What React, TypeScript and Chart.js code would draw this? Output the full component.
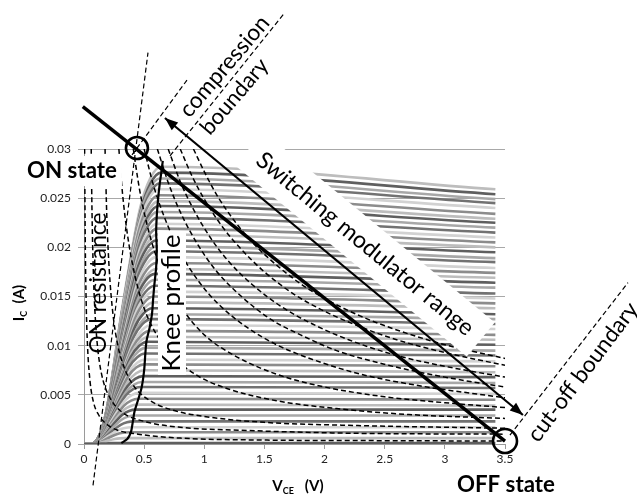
import React, { useEffect, useRef } from 'react';
import { Chart, registerables } from 'chart.js';

Chart.register(...registerables);

const FONT = 'Lato, "Open Sans", "DejaVu Sans", sans-serif';

// axis ticks
const xTickLabels = ['0', '0.5', '1', '1.5', '2', '2.5', '3', '3.5'];
const yTickLabels = ['0', '0.005', '0.01', '0.015', '0.02', '0.025', '0.03'];

// family of I-V curves: plateau current at the knee (A)
const curveKneeCurrent = [
  0.0001, 0.0006, 0.0012, 0.0017, 0.0023, 0.0029, 0.0035, 0.004, 0.0046, 0.0052,
  0.0058, 0.0063, 0.0069, 0.0075, 0.0081, 0.0086, 0.0092, 0.0098, 0.0104, 0.0109,
  0.0115, 0.0121, 0.0127, 0.0132, 0.0138, 0.0144, 0.015, 0.0155, 0.0161, 0.0167,
  0.0173, 0.0178, 0.0184, 0.019, 0.0196, 0.0201, 0.0207, 0.0213, 0.0219, 0.0224,
  0.023, 0.0236, 0.0242, 0.0247, 0.0253, 0.0259, 0.0265, 0.027, 0.0276, 0.0282,
];
// current at the right end of each curve (A)
const curveEndCurrent = [
  0.0001, 0.0006, 0.0012, 0.0017, 0.0023, 0.0029, 0.0035, 0.0039, 0.0045, 0.0051,
  0.0057, 0.0062, 0.0068, 0.0073, 0.0079, 0.0084, 0.009, 0.0095, 0.0101, 0.0106,
  0.0111, 0.0117, 0.0122, 0.0127, 0.0132, 0.0138, 0.0143, 0.0148, 0.0153, 0.0159,
  0.0164, 0.0169, 0.0174, 0.0179, 0.0185, 0.0189, 0.0195, 0.02, 0.0205, 0.021,
  0.0215, 0.022, 0.0225, 0.0229, 0.0234, 0.024, 0.0245, 0.0249, 0.0254, 0.0259,
];
// knee voltage of each curve (V)
const curveKneeVoltage = [
  0.3, 0.34, 0.37, 0.39, 0.41, 0.42, 0.43, 0.44, 0.45, 0.46,
  0.47, 0.48, 0.49, 0.5, 0.5, 0.51, 0.51, 0.52, 0.53, 0.54,
  0.55, 0.56, 0.56, 0.57, 0.57, 0.58, 0.58, 0.58, 0.59, 0.59,
  0.59, 0.6, 0.6, 0.6, 0.6, 0.6, 0.6, 0.61, 0.61, 0.61,
  0.61, 0.61, 0.62, 0.62, 0.62, 0.62, 0.63, 0.63, 0.64, 0.64,
];
const curveEndVoltage = 3.42;
const riseStartVoltage = 0.06;
// shape of the rising part (fraction of knee span, fraction of plateau current)
const riseSpan = [0, 0.2, 0.45, 0.7, 0.85, 1];
const riseLevel = [0, 0.1, 0.5, 0.85, 0.96, 1];
const curveShades = ['#5f5f5f', '#bdbdbd', '#8c8c8c', '#d2d2d2', '#727272', '#a8a8a8'];

// knee profile (V, A)
const kneeProfile = [
  [0.31, 0.0001], [0.36, 0.0005], [0.39, 0.0012], [0.405, 0.0022], [0.42, 0.0033],
  [0.45, 0.0045], [0.48, 0.0058], [0.5, 0.0075], [0.51, 0.0092], [0.52, 0.0105],
  [0.545, 0.0118], [0.565, 0.0132], [0.575, 0.0148], [0.585, 0.0162], [0.6, 0.018],
  [0.605, 0.0198], [0.6, 0.0215], [0.605, 0.0232], [0.615, 0.0248], [0.63, 0.0265],
  [0.645, 0.0278], [0.655, 0.0288],
];

// dashed contours (V, A)
const dashed1 = [[0.005, 0.03], [0.01, 0.0211], [0.018, 0.0144], [0.03, 0.0098], [0.05, 0.0064], [0.08, 0.0042], [0.12, 0.003], [0.18, 0.0021], [0.28, 0.0014], [0.45, 0.001], [0.8, 0.0006], [1.5, 0.0004], [2.5, 0.00034], [3.5, 0.0003]];
const dashed2 = [[0.06, 0.03], [0.065, 0.0249], [0.072, 0.0202], [0.08, 0.0166], [0.09, 0.0137], [0.105, 0.0109], [0.125, 0.0086], [0.16, 0.0064], [0.22, 0.0046], [0.32, 0.0032], [0.5, 0.0023], [0.8, 0.0017], [1.3, 0.0014], [2.2, 0.0011], [3.5, 0.001]];
const dashed3 = [[0.175, 0.03], [0.19, 0.023], [0.21, 0.0177], [0.24, 0.0133], [0.28, 0.0101], [0.34, 0.0076], [0.42, 0.0058], [0.55, 0.0044], [0.75, 0.0034], [1.0, 0.0028], [1.5, 0.0022], [2.2, 0.0019], [3.5, 0.0016]];
const dashed4 = [[0.29, 0.03], [0.32, 0.0255], [0.36, 0.0214], [0.42, 0.0173], [0.5, 0.0138], [0.6, 0.0112], [0.75, 0.0088], [0.95, 0.0069], [1.2, 0.0056], [1.6, 0.0044], [2.1, 0.0036], [2.7, 0.003], [3.5, 0.0026]];
const dashed5 = [[0.41, 0.03], [0.46, 0.026], [0.52, 0.0225], [0.6, 0.0191], [0.7, 0.0162], [0.82, 0.0137], [1.0, 0.0111], [1.25, 0.009], [1.6, 0.0071], [2.0, 0.0058], [2.5, 0.0048], [3.0, 0.0042], [3.5, 0.0037]];
const dashed6 = [[0.5, 0.03], [0.58, 0.0262], [0.68, 0.0227], [0.8, 0.0195], [0.95, 0.0166], [1.12, 0.0142], [1.35, 0.0119], [1.6, 0.0101], [1.9, 0.0086], [2.3, 0.0071], [2.8, 0.0059], [3.5, 0.0047]];
const dashed7 = [[0.61, 0.03], [0.7, 0.0266], [0.8, 0.0236], [0.95, 0.0202], [1.1, 0.0176], [1.3, 0.0151], [1.55, 0.0127], [1.8, 0.0111], [2.1, 0.0095], [2.5, 0.0081], [3.0, 0.0068], [3.5, 0.0058]];
const dashed8 = [[0.7, 0.03], [0.8, 0.0267], [0.9, 0.0241], [1.05, 0.021], [1.2, 0.0186], [1.4, 0.0162], [1.65, 0.0139], [1.9, 0.0122], [2.2, 0.0106], [2.6, 0.009], [3.0, 0.0079], [3.5, 0.0068]];
const dashed9 = [[0.8, 0.03], [0.9, 0.0272], [1.0, 0.0249], [1.15, 0.0221], [1.3, 0.0199], [1.5, 0.0175], [1.75, 0.0152], [2.0, 0.0135], [2.3, 0.0119], [2.6, 0.0106], [3.0, 0.0093], [3.5, 0.008]];
const dashed10 = [[0.91, 0.03], [1.0, 0.0277], [1.1, 0.0254], [1.25, 0.0227], [1.4, 0.0205], [1.6, 0.0182], [1.8, 0.0163], [2.0, 0.0148], [2.3, 0.013], [2.6, 0.0116], [3.0, 0.0101], [3.5, 0.0087]];
const dashedCurves = [dashed1, dashed2, dashed3, dashed4, dashed5, dashed6, dashed7, dashed8, dashed9, dashed10];

// annotations (data coordinates)
const thickLine = [[-0.01, 0.0343], [3.5, 0.0003]];
const onCircle = [0.44, 0.0301];
const offCircle = [3.5, 0.0003];
const modulatorArrow = [[0.673, 0.03315], [3.649, 0.00295]];
const onResistanceLine = [[0.075, -0.0042], [0.532, 0.0398]];
const fanLine = [[0.399, 0.0294], [0.856, 0.037]];
const compressionLine = [[0.715, 0.0293], [1.671, 0.0439]];
const cutoffLine = [[3.541, 0.0009], [4.522, 0.0164]];

function fitFont(ctx: CanvasRenderingContext2D, text: string, width: number, weight: string) {
  ctx.font = `${weight} 100px ${FONT}`;
  const w = ctx.measureText(text).width;
  const size = (100 * width) / w;
  ctx.font = `${weight} ${size}px ${FONT}`;
  return size;
}

function drawLabel(
  ctx: CanvasRenderingContext2D,
  text: string,
  x: number,
  y: number,
  angleDeg: number,
  width: number,
  weight: string,
  align: CanvasTextAlign,
  bg?: { w: number; h: number }
) {
  ctx.save();
  ctx.translate(x, y);
  ctx.rotate((angleDeg * Math.PI) / 180);
  if (bg) {
    ctx.fillStyle = '#ffffff';
    ctx.fillRect(-bg.w / 2, -bg.h / 2, bg.w, bg.h);
  }
  fitFont(ctx, text, width, weight);
  ctx.fillStyle = '#000000';
  ctx.textAlign = align;
  ctx.textBaseline = 'middle';
  ctx.fillText(text, 0, 0);
  ctx.restore();
}

function drawSubTitle(
  ctx: CanvasRenderingContext2D,
  parts: { t: string; sub?: boolean }[],
  x: number,
  y: number,
  angleDeg: number
) {
  ctx.save();
  ctx.translate(x, y);
  ctx.rotate((angleDeg * Math.PI) / 180);
  const main = `bold 15px ${FONT}`;
  const small = `bold 9px ${FONT}`;
  let total = 0;
  parts.forEach((p) => {
    ctx.font = p.sub ? small : main;
    total += ctx.measureText(p.t).width;
  });
  let cx = -total / 2;
  ctx.fillStyle = '#000';
  ctx.textBaseline = 'alphabetic';
  ctx.textAlign = 'left';
  parts.forEach((p) => {
    ctx.font = p.sub ? small : main;
    ctx.fillText(p.t, cx, p.sub ? 8 : 5);
    cx += ctx.measureText(p.t).width;
  });
  ctx.restore();
}

function arrowHead(ctx: CanvasRenderingContext2D, tx: number, ty: number, fx: number, fy: number) {
  const a = Math.atan2(ty - fy, tx - fx);
  const len = 13;
  const half = 5;
  ctx.beginPath();
  ctx.moveTo(tx, ty);
  ctx.lineTo(tx - len * Math.cos(a) + half * Math.sin(a), ty - len * Math.sin(a) - half * Math.cos(a));
  ctx.lineTo(tx - len * Math.cos(a) - half * Math.sin(a), ty - len * Math.sin(a) + half * Math.cos(a));
  ctx.closePath();
  ctx.fill();
}

const notesPlugin = {
  id: 'notes',
  afterDatasetsDraw(chart: any) {
    const ctx: CanvasRenderingContext2D = chart.ctx;
    const xs = chart.scales.x;
    const ys = chart.scales.y;
    const P = (p: number[]) => [xs.getPixelForValue(p[0]), ys.getPixelForValue(p[1])];
    ctx.save();

    // white-backed labels
    const sw = P([2.336, 0.02034]);
    drawLabel(ctx, 'Switching modulator range', sw[0], sw[1], 39.5, 274, 'normal', 'center', { w: 300, h: 44 });
    const kn = P([0.7315, 0.01434]);
    drawLabel(ctx, 'Knee profile', kn[0], kn[1], -90, 137, 'normal', 'center', { w: 144, h: 28 });
    const on = P([-0.1, 0.02776]);
    drawLabel(ctx, 'ON state', on[0], on[1], 0, 90, 'bold', 'center', { w: 100, h: 30 });
    const onr = P([0.125, 0.01637]);
    drawLabel(ctx, 'ON resistance', onr[0], onr[1], -90, 141, 'normal', 'center');

    // thin dashed guide lines
    ctx.strokeStyle = '#000';
    ctx.lineWidth = 1.2;
    ctx.setLineDash([5, 3]);
    [onResistanceLine, fanLine, compressionLine, cutoffLine].forEach((l) => {
      const a = P(l[0]);
      const b = P(l[1]);
      ctx.beginPath();
      ctx.moveTo(a[0], a[1]);
      ctx.lineTo(b[0], b[1]);
      ctx.stroke();
    });
    ctx.setLineDash([]);

    // thick switching line
    {
      const a = P(thickLine[0]);
      const b = P(thickLine[1]);
      ctx.lineWidth = 3.5;
      ctx.beginPath();
      ctx.moveTo(a[0], a[1]);
      ctx.lineTo(b[0], b[1]);
      ctx.stroke();
    }
    // double arrow
    {
      const a = P(modulatorArrow[0]);
      const b = P(modulatorArrow[1]);
      ctx.lineWidth = 2.2;
      ctx.beginPath();
      ctx.moveTo(a[0], a[1]);
      ctx.lineTo(b[0], b[1]);
      ctx.stroke();
      ctx.fillStyle = '#000';
      arrowHead(ctx, a[0], a[1], b[0], b[1]);
      arrowHead(ctx, b[0], b[1], a[0], a[1]);
    }
    // circles
    ctx.lineWidth = 2.6;
    [onCircle, offCircle].forEach((c, i) => {
      const p = P(c);
      ctx.beginPath();
      ctx.arc(p[0], p[1], i === 0 ? 11 : 12, 0, Math.PI * 2);
      ctx.stroke();
    });

    // free labels
    const cp = P([0.831, 0.03356]);
    drawLabel(ctx, 'compression', cp[0], cp[1], -49.5, 125, 'normal', 'left');
    const ang = (-49.5 * Math.PI) / 180;
    const off = 27;
    drawLabel(ctx, 'boundary', cp[0] - Math.sin(ang) * off, cp[1] + Math.cos(ang) * off, -49.5, 92, 'normal', 'left');
    const cb = P([4.148, 0.00732]);
    drawLabel(ctx, 'cut-off boundary', cb[0], cb[1], -53, 168, 'normal', 'center');
    const offs = P([3.508, -0.00417]);
    drawLabel(ctx, 'OFF state', offs[0], offs[1], 0, 98, 'bold', 'center');

    // axis titles
    drawSubTitle(ctx, [{ t: 'I' }, { t: 'C', sub: true }, { t: '  (A)' }], 19, 303, -90);
    drawSubTitle(ctx, [{ t: 'V' }, { t: 'CE', sub: true }, { t: '   (V)' }], 298, 486, 0);

    ctx.restore();
  },
};

export default function App() {
  const ref = useRef<HTMLCanvasElement>(null);
  useEffect(() => {
    const canvas = ref.current;
    if (!canvas) return;

    const grayDatasets = curveKneeCurrent.map((level, i) => {
      const knee = curveKneeVoltage[i];
      const pts: { x: number; y: number }[] = [{ x: 0, y: 0 }];
      riseSpan.forEach((t, j) => {
        pts.push({ x: riseStartVoltage + t * (knee - riseStartVoltage), y: riseLevel[j] * level });
      });
      pts.push({ x: curveEndVoltage, y: curveEndCurrent[i] });
      return {
        data: pts,
        borderColor: curveShades[i % curveShades.length],
        borderWidth: 2.6,
        cubicInterpolationMode: 'monotone' as const,
        pointRadius: 0,
        fill: false,
        order: 3,
      };
    });
    const dashedDatasets = dashedCurves.map((c) => ({
      data: c.map(([x, y]) => ({ x, y })),
      borderColor: '#000000',
      borderWidth: 1.5,
      borderDash: [5, 3],
      cubicInterpolationMode: 'monotone' as const,
      pointRadius: 0,
      fill: false,
      order: 2,
    }));
    const kneeDataset = {
      data: kneeProfile.map(([x, y]) => ({ x, y })),
      borderColor: '#000000',
      borderWidth: 2.2,
      tension: 0.3,
      pointRadius: 0,
      fill: false,
      order: 1,
    };

    const xTickValues = xTickLabels.map(Number);
    const yTickValues = yTickLabels.map(Number);

    const chart = new Chart(canvas, {
      type: 'line',
      data: { datasets: [...grayDatasets, ...dashedDatasets, kneeDataset] as any },
      options: {
        animation: false,
        responsive: false,
        events: [],
        layout: { padding: { left: 34, right: 132, top: 149, bottom: 23 } },
        plugins: { legend: { display: false }, tooltip: { enabled: false } },
        elements: { point: { radius: 0 } },
        scales: {
          x: {
            type: 'linear',
            min: 0,
            max: 3.5,
            afterFit: (s: any) => {
              s.height = 30;
            },
            afterBuildTicks: (s: any) => {
              s.ticks = xTickValues.map((v) => ({ value: v }));
            },
            ticks: {
              callback: (v: any) => xTickLabels[xTickValues.indexOf(Number(v))] ?? '',
              font: { family: FONT, size: 12 },
              color: '#222',
              padding: 3,
              maxRotation: 0,
            },
            grid: { drawOnChartArea: false, drawTicks: true, tickLength: 5, color: '#9a9a9a' },
            border: { display: true, color: '#9a9a9a', width: 1 },
          },
          y: {
            type: 'linear',
            min: 0,
            max: 0.03,
            afterFit: (s: any) => {
              s.width = 50;
            },
            afterBuildTicks: (s: any) => {
              s.ticks = yTickValues.map((v) => ({ value: v }));
            },
            ticks: {
              callback: (v: any) => {
                const idx = yTickValues.findIndex((t) => Math.abs(t - Number(v)) < 1e-9);
                return idx >= 0 ? yTickLabels[idx] : '';
              },
              font: { family: FONT, size: 12 },
              color: '#222',
              padding: 7,
            },
            grid: { drawOnChartArea: true, drawTicks: true, tickLength: 6, color: '#a8a8a8' },
            border: { display: true, color: '#9a9a9a', width: 1 },
          },
        },
      },
      plugins: [notesPlugin],
    });
    return () => chart.destroy();
  }, []);

  return (
    <div style={{ position: 'absolute', left: 0, top: 0, width: 637, height: 497, background: '#fff' }}>
      <canvas ref={ref} width={637} height={497} style={{ display: 'block' }} />
    </div>
  );
}
